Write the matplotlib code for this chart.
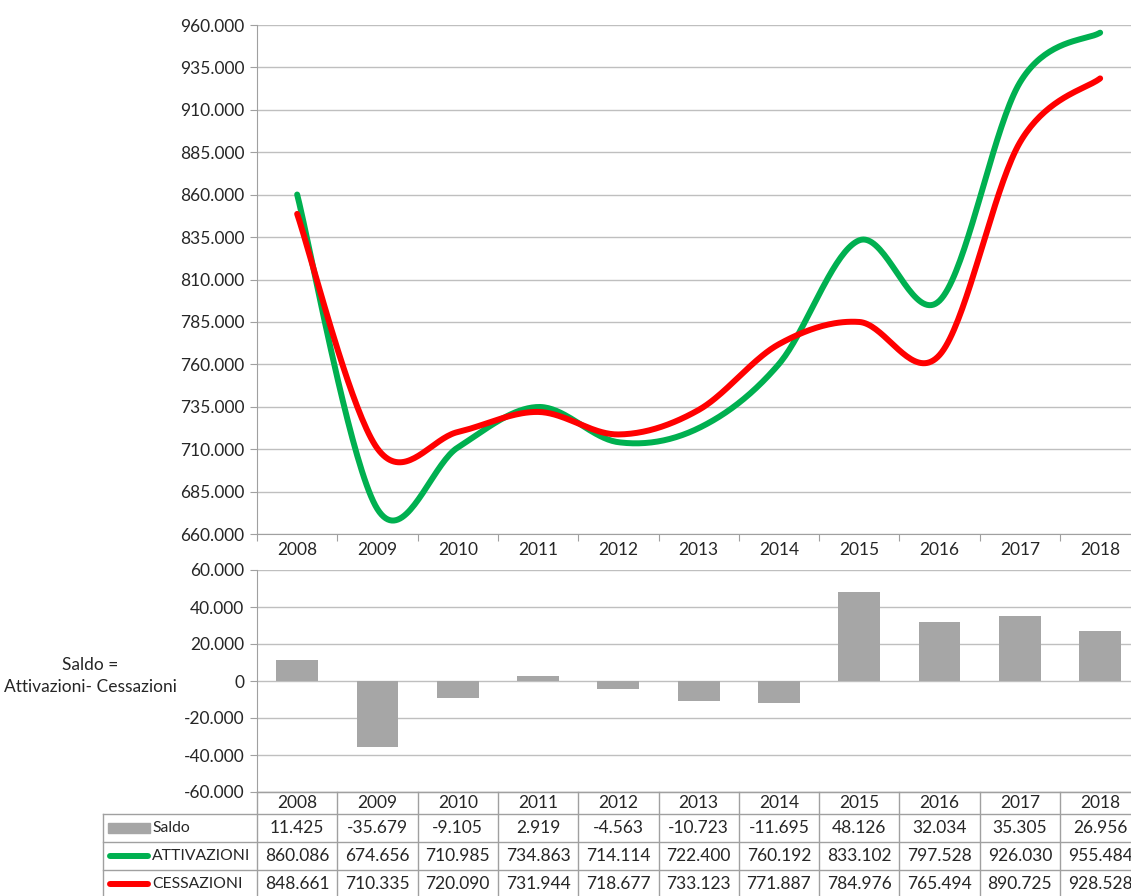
import numpy as np
import matplotlib.pyplot as plt
from matplotlib.ticker import FuncFormatter, MultipleLocator
from matplotlib.transforms import blended_transform_factory
from matplotlib.lines import Line2D
from matplotlib.patches import Rectangle

years = ["2008", "2009", "2010", "2011", "2012", "2013", "2014", "2015", "2016", "2017", "2018"]
saldo = [11425, -35679, -9105, 2919, -4563, -10723, -11695, 48126, 32034, 35305, 26956]
attivazioni = [860086, 674656, 710985, 734863, 714114, 722400, 760192, 833102, 797528, 926030, 955484]
cessazioni = [848661, 710335, 720090, 731944, 718677, 733123, 771887, 784976, 765494, 890725, 928528]

GREEN = "#00B050"
RED = "#FF0000"
BAR = "#A6A6A6"
GRID = "#BFBFBF"
LINE = "#A0A0A0"
TXT = "#262626"

plt.rcParams["font.family"] = ["Lato", "DejaVu Sans"]
plt.rcParams["font.size"] = 12.5

W, H = 1131, 896


def it_fmt(v, pos=None):
    if abs(v) < 0.5:
        return "0"
    return f"{v:,.0f}".replace(",", ".")


def smooth(y, n=40):
    # Catmull-Rom style smoothing, like a spreadsheet "smoothed line"
    y = np.asarray(y, dtype=float)
    x = np.arange(len(y), dtype=float)
    px = np.concatenate([[x[0]], x, [x[-1]]])
    py = np.concatenate([[y[0]], y, [y[-1]]])
    xs, ys = [], []
    for i in range(len(y) - 1):
        p0x, p1x, p2x, p3x = px[i], px[i + 1], px[i + 2], px[i + 3]
        p0y, p1y, p2y, p3y = py[i], py[i + 1], py[i + 2], py[i + 3]
        c1x = p1x + (p2x - p0x) / 6
        c1y = p1y + (p2y - p0y) / 6
        c2x = p2x - (p3x - p1x) / 6
        c2y = p2y - (p3y - p1y) / 6
        t = np.linspace(0, 1, n)
        bx = (1 - t) ** 3 * p1x + 3 * (1 - t) ** 2 * t * c1x + 3 * (1 - t) * t ** 2 * c2x + t ** 3 * p2x
        by = (1 - t) ** 3 * p1y + 3 * (1 - t) ** 2 * t * c1y + 3 * (1 - t) * t ** 2 * c2y + t ** 3 * p2y
        xs.append(bx)
        ys.append(by)
    return np.concatenate(xs), np.concatenate(ys)


def box(l, t, r, b):
    return [l / W, 1 - b / H, (r - l) / W, (b - t) / H]


fig = plt.figure(figsize=(W / 100, H / 100), dpi=100)

x = np.arange(len(years))
cw = 80.3
ax_l = 257
ax_r = ax_l + cw * len(years)

# ---- top: smoothed lines ----
ax1 = fig.add_axes(box(ax_l, 25, ax_r, 534))
ax1.set_xlim(-0.5, len(years) - 0.5)
ax1.set_ylim(660000, 960000)
ax1.set_yticks(np.arange(660000, 960001, 25000))
ax1.yaxis.set_major_formatter(FuncFormatter(it_fmt))
ax1.grid(axis="y", color=GRID, lw=1)
ax1.set_axisbelow(True)
sx, sy = smooth(attivazioni)
ax1.plot(sx, sy, color=GREEN, lw=4.3, solid_capstyle="round", zorder=3)
sx, sy = smooth(cessazioni)
ax1.plot(sx, sy, color=RED, lw=4.3, solid_capstyle="round", zorder=4)
ax1.set_xticks(np.arange(-0.5, len(years), 1.0))
ax1.set_xticklabels([])
ax1.set_xticks(x, minor=True)
ax1.set_xticklabels(years, minor=True)
ax1.tick_params(axis="x", which="major", length=5, color=LINE)
ax1.tick_params(axis="x", which="minor", length=0, pad=6, colors=TXT)
ax1.tick_params(axis="y", length=5, color=LINE, labelcolor=TXT, pad=4)
for s in ["top", "right"]:
    ax1.spines[s].set_visible(False)
for s in ["left", "bottom"]:
    ax1.spines[s].set_color(LINE)

# ---- bottom: bars ----
ax2 = fig.add_axes(box(ax_l, 570, ax_r, 792))
ax2.set_xlim(-0.5, len(years) - 0.5)
ax2.set_ylim(-60000, 60000)
ax2.yaxis.set_major_locator(MultipleLocator(20000))
ax2.yaxis.set_major_formatter(FuncFormatter(it_fmt))
ax2.grid(axis="y", color=GRID, lw=1)
ax2.set_axisbelow(True)
ax2.bar(x, saldo, width=0.52, color=BAR, zorder=3)
ax2.set_xticks([])
ax2.tick_params(axis="y", length=5, color=LINE, labelcolor=TXT, pad=4)
for s in ["top", "right"]:
    ax2.spines[s].set_visible(False)
for s in ["left", "bottom"]:
    ax2.spines[s].set_color(LINE)

fig.text(90 / W, 1 - 676 / H, "Saldo =\nAttivazioni- Cessazioni", ha="center", va="center",
         color=TXT, linespacing=1.45)

# ---- data table ----
tr = blended_transform_factory(ax2.transData, fig.transFigure)
row_lines = [792, 814, 842, 870, 898]


def fy(py):
    return 1 - py / H


# horizontal lines
fig.add_artist(Line2D([ax_l / W, ax_r / W], [fy(792)] * 2, color=LINE, lw=1))
for py in row_lines[1:]:
    fig.add_artist(Line2D([103 / W, ax_r / W], [fy(py)] * 2, color=LINE, lw=1))
# vertical lines
for b in np.arange(-0.5, len(years), 1.0):
    fig.add_artist(Line2D([b, b], [fy(792), fy(898)], color=LINE, lw=1, transform=tr))
fig.add_artist(Line2D([103 / W] * 2, [fy(814), fy(898)], color=LINE, lw=1))

rows = [saldo, attivazioni, cessazioni]
header_y = (792 + 814) / 2
for i, yr in enumerate(years):
    fig.text(i, fy(header_y), yr, transform=tr, ha="center", va="center", color=TXT)
for r, vals in enumerate(rows):
    cy = (row_lines[r + 1] + row_lines[r + 2]) / 2
    for i, v in enumerate(vals):
        fig.text(i, fy(cy), it_fmt(v), transform=tr, ha="center", va="center", color=TXT)

# legend keys in the first column
lab_fs = 11.3
cy0 = (814 + 842) / 2
fig.add_artist(Rectangle((108 / W, fy(cy0 + 5)), 42 / W, 10 / H, color=BAR, transform=fig.transFigure))
fig.text(152 / W, fy(cy0), "Saldo", ha="left", va="center", color=TXT, fontsize=lab_fs)
cy1 = (842 + 870) / 2
fig.add_artist(Line2D([110 / W, 148 / W], [fy(cy1)] * 2, color=GREEN, lw=4.3, solid_capstyle="round"))
fig.text(152 / W, fy(cy1), "ATTIVAZIONI", ha="left", va="center", color=TXT, fontsize=lab_fs)
cy2 = (870 + 898) / 2
fig.add_artist(Line2D([110 / W, 148 / W], [fy(cy2)] * 2, color=RED, lw=4.3, solid_capstyle="round"))
fig.text(152 / W, fy(cy2), "CESSAZIONI", ha="left", va="center", color=TXT, fontsize=lab_fs)

fig.savefig("out.png", dpi=100)
